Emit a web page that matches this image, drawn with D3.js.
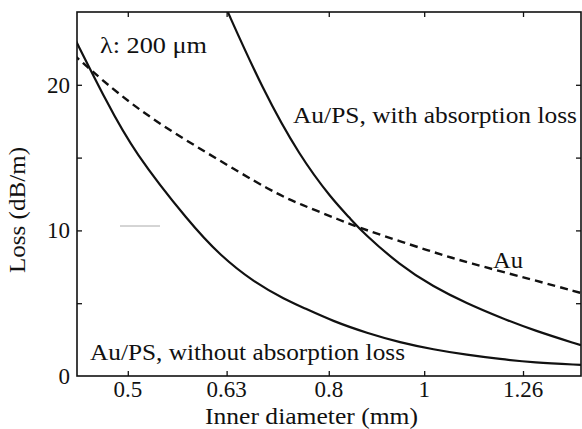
<!DOCTYPE html>
<html>
<head>
<meta charset="utf-8">
<script src="https://cdn.jsdelivr.net/npm/d3@7"></script>
<style>
    body { margin: 0; background: #fff; }
    svg text { font-family: "Liberation Serif", "Times New Roman", serif; fill: #111; }
</style>
</head>
<body>
<svg id="chart" width="582" height="429"></svg>
<script>
// values (inner diameter in mm, loss in dB/m)
var noAbsDiameter = [0.440, 0.476, 0.507, 0.578, 0.620, 0.671, 0.725, 0.748, 0.809, 0.875, 0.945, 1.022, 1.105, 1.194, 1.291, 1.443];
var noAbsLoss = [23.4, 18.8, 15.4, 10.5, 8.3, 6.45, 5.2, 4.8, 3.74, 2.95, 2.3, 1.82, 1.45, 1.16, 0.93, 0.76];

var withAbsDiameter = [0.626, 0.686, 0.748, 0.806, 0.841, 0.865, 0.945, 1.022, 1.105, 1.194, 1.291, 1.443];
var withAbsLoss = [25.6, 19.6, 15.06, 12.15, 10.83, 9.9, 7.6, 6.12, 4.98, 4.02, 3.14, 2.11];

var auDiameter = [0.440, 0.507, 0.602, 0.703, 0.748, 0.822, 0.865, 1.022, 1.105, 1.291, 1.443];
var auLoss = [22.1, 18.4, 15.3, 12.6, 11.8, 10.7, 10.1, 8.5, 7.8, 6.6, 5.7];

var xTicks = [0.5, 0.63, 0.8, 1, 1.26];
var xTickLabels = ["0.5", "0.63", "0.8", "1", "1.26"];
var yTicks = [0, 5, 10, 15, 20, 25];
var yTickLabels = ["0", "", "10", "", "20", ""];

var margin = {left: 77, right: 1, top: 12, bottom: 53};
var width = 582, height = 429;

var svg = d3.select("#chart");

var x = d3.scaleLog()
    .domain([0.444, 1.443])
    .range([margin.left, width - margin.right]);
var y = d3.scaleLinear()
    .domain([0, 25])
    .range([height - margin.bottom, margin.top]);

svg.append("clipPath").attr("id", "plotclip")
    .append("rect")
    .attr("x", x.range()[0]).attr("y", y.range()[1])
    .attr("width", x.range()[1] - x.range()[0])
    .attr("height", y.range()[0] - y.range()[1]);

function pairs(xs, ys) {
    return xs.map(function(d, i) { return [d, ys[i]]; });
}

var line = d3.line()
    .x(function(d) { return x(d[0]); })
    .y(function(d) { return y(d[1]); })
    .curve(d3.curveBasis);

var curves = svg.append("g").attr("clip-path", "url(#plotclip)");

curves.append("path")
    .datum(pairs(noAbsDiameter, noAbsLoss))
    .attr("d", line)
    .attr("fill", "none").attr("stroke", "#111").attr("stroke-width", 2.2);

curves.append("path")
    .datum(pairs(withAbsDiameter, withAbsLoss))
    .attr("d", line)
    .attr("fill", "none").attr("stroke", "#111").attr("stroke-width", 2.2);

curves.append("path")
    .datum(pairs(auDiameter, auLoss))
    .attr("d", line)
    .attr("fill", "none").attr("stroke", "#111").attr("stroke-width", 2.4)
    .attr("stroke-dasharray", "8,5");

// axes: ticks point inward on all four sides
svg.append("g")
    .attr("transform", "translate(0," + y(0) + ")")
    .call(d3.axisTop(x).tickValues(xTicks).tickSize(5).tickFormat(""));
svg.append("g")
    .attr("transform", "translate(0," + y(25) + ")")
    .call(d3.axisBottom(x).tickValues(xTicks).tickSize(5).tickFormat(""));
svg.append("g")
    .attr("transform", "translate(" + x(0.444) + ",0)")
    .call(d3.axisRight(y).tickValues(yTicks.slice(1, 5)).tickSize(5).tickFormat(""));
svg.append("g")
    .attr("transform", "translate(" + x(1.443) + ",0)")
    .call(d3.axisLeft(y).tickValues(yTicks.slice(1, 5)).tickSize(5).tickFormat(""));

svg.selectAll(".domain").remove();
svg.selectAll(".tick line").attr("stroke", "#111").attr("stroke-width", 1.3);

svg.append("rect")
    .attr("x", x(0.444)).attr("y", y(25))
    .attr("width", x(1.443) - x(0.444))
    .attr("height", y(0) - y(25))
    .attr("fill", "none").attr("stroke", "#111").attr("stroke-width", 1.6);

// tick labels
svg.selectAll(".xlab").data(xTicks).enter().append("text")
    .attr("x", function(d) { return x(d); })
    .attr("y", 397)
    .attr("text-anchor", "middle")
    .style("font-size", "23px")
    .text(function(d, i) { return xTickLabels[i]; });

svg.selectAll(".ylab").data(yTicks).enter().append("text")
    .attr("x", 70)
    .attr("y", function(d) { return y(d); })
    .attr("dy", "0.35em")
    .attr("text-anchor", "end")
    .style("font-size", "23px")
    .text(function(d, i) { return yTickLabels[i]; });

// text stretched a little to the widths seen in the scan
function label(tx, ty, str, len) {
    return svg.append("text")
        .attr("x", tx).attr("y", ty)
        .attr("textLength", len)
        .attr("lengthAdjust", "spacingAndGlyphs")
        .style("font-size", "23px")
        .text(str);
}

label(205, 424, "Inner diameter (mm)", 213);
label(0, 0, "Loss (dB/m)", 126)
    .attr("transform", "translate(25,273) rotate(-90)");

label(100, 53, "λ: 200 μm", 107);
label(293, 123, "Au/PS, with absorption loss", 284);
label(493, 268, "Au", 30);
label(90, 360, "Au/PS, without absorption loss", 315);

// faint stray mark present in the scanned figure
svg.append("line")
    .attr("x1", 120).attr("x2", 160).attr("y1", 226).attr("y2", 226)
    .attr("stroke", "#aaa").attr("stroke-width", 1);
</script>
</body>
</html>
